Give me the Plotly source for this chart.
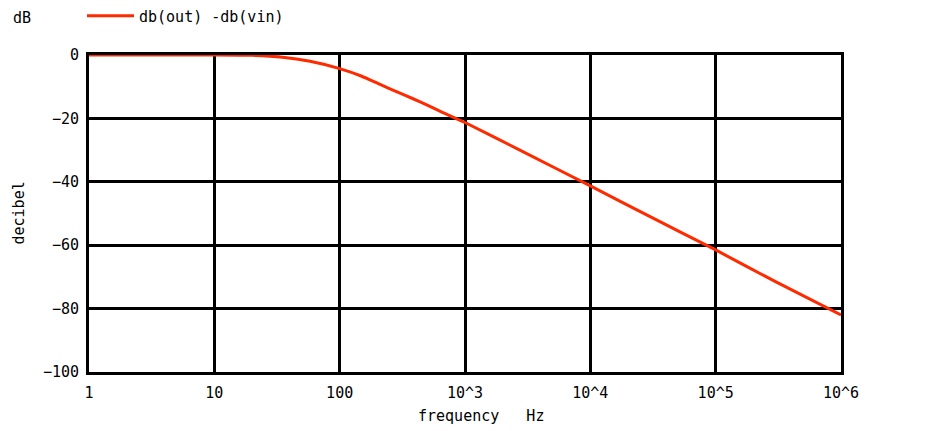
import plotly.graph_objects as go

freq_hz = [1, 5, 10, 20, 35, 58, 100, 150, 210, 290, 385, 500, 630, 1000, 3000,
           10000, 30000, 100000, 300000, 1000000]
gain_db = [0, 0, 0, -0.1, -0.7, -2.0, -4.3, -6.7, -9.3, -11.7, -13.8, -15.8, -17.7,
           -21.3, -30.8, -41.3, -51.0, -61.5, -71.5, -82.0]

x_tickvals = [1, 10, 100, 1000, 10000, 100000, 1000000]
x_ticktext = ["1", "10", "100", "10^3", "10^4", "10^5", "10^6"]
y_tickvals = [0, -20, -40, -60, -80, -100]

FONT = "DejaVu Sans Mono, monospace"
FS = 15

# page body has an 8px margin; figure sized so the plot box lands where the reference has it
W, H = 924, 423
ML, MR, MT, MB = 81, 91, 47, 59
PW = W - ML - MR

fig = go.Figure()
fig.add_trace(go.Scatter(
    x=freq_hz, y=gain_db, mode="lines", name="db(out) -db(vin)",
    line=dict(color="#ff2a00", width=3, shape="spline", smoothing=0.4),
))

fig.update_layout(
    width=W, height=H,
    margin=dict(l=ML, r=MR, t=MT, b=MB, autoexpand=False),
    paper_bgcolor="white", plot_bgcolor="white",
    font=dict(family=FONT, size=FS, color="black"),
    showlegend=True,
    legend=dict(x=-7 / PW, y=1 - 8 / H, xanchor="left", yanchor="middle",
                xref="paper", yref="container", bgcolor="rgba(0,0,0,0)",
                font=dict(family=FONT, size=FS, color="black"),
                itemwidth=47, borderwidth=0),
    annotations=[
        dict(text="dB", xref="paper", yref="paper", x=-(ML - 3) / PW, y=1.0,
             yshift=37, xanchor="left", yanchor="middle", showarrow=False,
             font=dict(family=FONT, size=FS, color="black")),
        dict(text="frequency   Hz", xref="paper", yref="paper",
             x=(481 - 89) / PW, y=0, yshift=-44, xanchor="center",
             yanchor="middle", showarrow=False,
             font=dict(family=FONT, size=FS, color="black")),
        dict(text="decibel", xref="paper", yref="paper",
             x=-(89 - 18) / PW, y=0.5, xanchor="center", yanchor="middle",
             textangle=-90, showarrow=False,
             font=dict(family=FONT, size=FS, color="black")),
    ],
)
fig.update_xaxes(
    type="log", range=[0, 6], tickvals=x_tickvals, ticktext=x_ticktext,
    showgrid=True, gridcolor="black", gridwidth=3,
    showline=True, linecolor="black", linewidth=3, mirror=True,
    ticks="", zeroline=False, ticklabelstandoff=5,
    tickfont=dict(family=FONT, size=FS),
)
fig.update_yaxes(
    range=[-100, 0], tickvals=y_tickvals,
    showgrid=True, gridcolor="black", gridwidth=3,
    showline=True, linecolor="black", linewidth=3, mirror=True,
    ticks="", zeroline=True, zerolinecolor="black", zerolinewidth=5,
    ticklabelstandoff=4,
    tickfont=dict(family=FONT, size=FS),
)

fig.write_html("out.html")
